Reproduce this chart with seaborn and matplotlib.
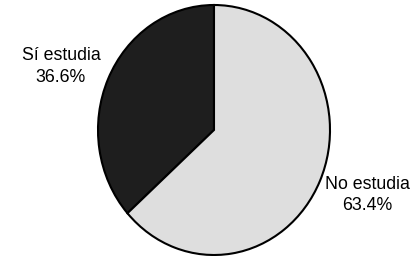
import seaborn as sns
import matplotlib.pyplot as plt

# Datos del gráfico
categorias = ['Sí estudia', 'No estudia']
porcentajes = [36.6, 63.4]
colores = ['#1e1e1e', '#dedede']

sns.set_theme(style='white')
plt.rcParams['font.family'] = ['Liberation Sans', 'DejaVu Sans']

fig = plt.figure(figsize=(4.13, 2.56), dpi=100)
ax = fig.add_axes([0, 0, 1, 1])

etiquetas = [f'{c}\n{p:.1f}%' for c, p in zip(categorias, porcentajes)]
cunas, textos = ax.pie(porcentajes, labels=etiquetas, colors=colores,
                       startangle=90, counterclock=True, labeldistance=1.41,
                       wedgeprops=dict(edgecolor='black', linewidth=1.5),
                       textprops=dict(fontsize=12.8, color='black', linespacing=1.35))
# posición de las etiquetas como en el original
pos_etiquetas = [(-1.32, 0.51), (1.32, -0.52)]
for t, p in zip(textos, pos_etiquetas):
    t.set_position(p)
    t.set_horizontalalignment('center')
    t.set_verticalalignment('center')
    t.set_multialignment('center')

# el círculo escaneado queda algo ovalado
ax.set_aspect('auto')
ax.set_xlim(-214 / 116, (413 - 214) / 116)
ax.set_ylim(-(256 - 130) / 125, 130 / 125)
ax.axis('off')

fig.savefig('out.png', dpi=100)
